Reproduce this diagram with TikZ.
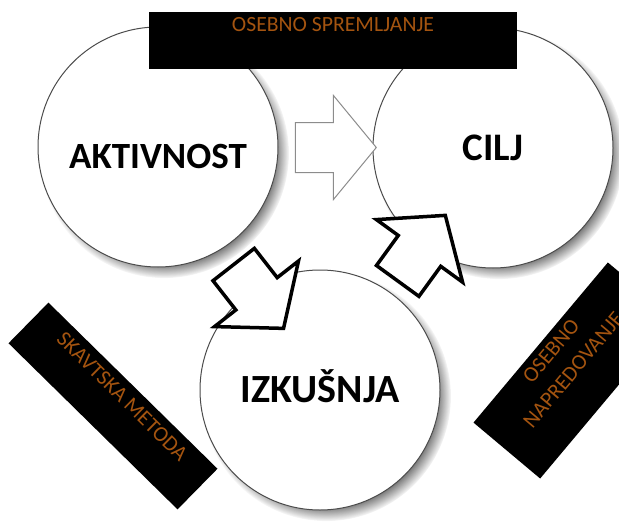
\documentclass[tikz,border=0pt]{standalone}
\usepackage{fontspec}
\setmainfont{Carlito}
\usepackage{tikz}
\usetikzlibrary{shapes.arrows, shadows, calc}
\definecolor{rjava}{RGB}{164,84,16}

\begin{document}
\begin{tikzpicture}[x=1pt, y=-1pt, krog/.style={draw=black!70, fill=white, circle, minimum size=240pt, line width=1pt, font=\bfseries, circular drop shadow={shadow xshift=6pt, shadow yshift=-6pt, shadow scale=1.04, fill=black!80, opacity=.85}}, okvir/.style={fill=black, text=rjava, inner sep=0pt, font=\fontsize{21.7}{29}\selectfont, text height=14pt, text depth=31pt, align=center}, puscica/.style={single arrow, fill=white, minimum height=81pt, inner sep=0pt, inner ysep=24.5pt, single arrow head extend=27pt, single arrow tip angle=101, outer sep=0pt}, svetla/.style={puscica, draw=black!45, line width=1pt}, temna/.style={puscica, draw=black, line width=3.5pt}]
    \clip (0,0) rectangle (619,527);
    % nodes
    \node[krog, text height=44pt, font=\fontsize{37}{40}\selectfont\bfseries] (akt) at (158,147) {AKTIVNOST};
    \node[krog, font=\fontsize{39}{40}\selectfont\bfseries] (cilj) at (493,148) {CILJ};
    \node[krog, text height=26pt, font=\fontsize{40}{40}\selectfont\bfseries] (izk) at (320,390) {IZKUŠNJA};
    % arrows
    \node[svetla] (p1) at ($(akt)!.5!(cilj)$) {};
    \node[temna, rotate=-52] (p2) at ($(akt)!.58!(izk)$) {};
    \node[temna, rotate=54] (p3) at ($(izk)!.55!(cilj)$) {};
    % boxes
    \node[okvir, minimum width=368pt, minimum height=57pt] (sprem) at (333,40.5) {OSEBNO SPREMLJANJE};
    \node[okvir, minimum width=237pt, minimum height=57pt, text depth=27pt, rotate=-44.5] (metoda) at (113,406) {SKAVTSKA METODA};
    \node[okvir, minimum width=209pt, minimum height=87pt, text height=43pt, rotate=50] (napred) at (574,370.5) {OSEBNO\\NAPREDOVANJE};
\end{tikzpicture}
\end{document}
